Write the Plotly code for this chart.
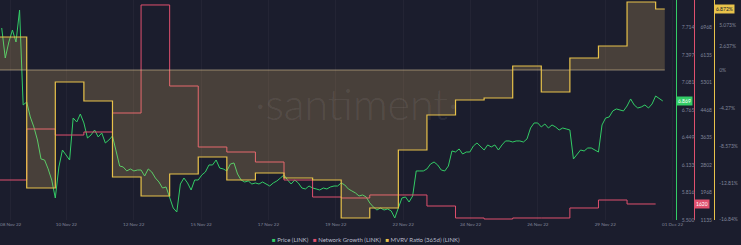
import pandas as pd
import plotly.graph_objects as go

# ---------------- data ----------------
price_start = "2022-11-07 03:00"
price_step = "3h"
price = [
    7.708, 7.363, 7.547, 7.685, 7.547, 7.915, 6.823, 6.857, 6.685, 6.570,
    6.420, 6.202, 6.190, 6.087, 5.960, 5.753, 6.110, 6.305, 6.248, 6.190,
    6.673, 6.627, 6.719, 6.616, 6.443, 6.478, 6.535, 6.455, 6.501, 6.386,
    6.420, 6.466, 6.294, 6.121, 6.110, 6.064, 6.087, 6.064, 6.075, 6.075,
    6.006, 6.087, 6.052, 5.983, 5.937, 5.868, 5.880, 5.753, 5.638, 5.592,
    5.914, 5.983, 5.926, 5.845, 5.960, 5.960, 6.018, 6.052, 6.133, 6.133,
    6.190, 6.098, 6.087, 6.064, 6.144, 6.156, 6.029, 5.960, 5.937, 5.949,
    5.914, 5.926, 5.914, 5.937, 5.914, 5.891, 5.926, 5.949, 5.983, 6.018,
    5.960, 5.914, 5.960, 5.926, 5.868, 5.857, 5.891, 5.868, 5.857, 5.845,
    5.868, 5.857, 5.880, 5.891, 5.891, 5.926, 5.903, 5.857, 5.834, 5.811,
    5.776, 5.788, 5.765, 5.696, 5.650, 5.615, 5.638, 5.615, 5.627, 5.604,
    5.523, 5.638, 5.753, 5.765, 5.707, 5.776, 6.064, 6.064, 6.064, 6.087,
    6.144, 6.167, 6.133, 6.075, 6.064, 6.121, 6.294, 6.282, 6.317, 6.259,
    6.282, 6.282, 6.351, 6.386, 6.340, 6.305, 6.363, 6.340, 6.363, 6.305,
    6.363, 6.409, 6.409, 6.397, 6.409, 6.409, 6.397, 6.432, 6.558, 6.616,
    6.616, 6.570, 6.604, 6.558, 6.593, 6.570, 6.535, 6.558, 6.547, 6.535,
    6.202, 6.248, 6.305, 6.294, 6.328, 6.328, 6.305, 6.282, 6.593, 6.673,
    6.685, 6.754, 6.777, 6.765, 6.754, 6.811, 6.892, 6.823, 6.788, 6.800,
    6.823, 6.788, 6.834, 6.926, 6.892, 6.869,
]

daily_start = "2022-11-07"
network_growth = [
    2347, 3892, 3710, 3801, 4377, 7650, 5195, 3347, 3195, 2892,
    2347, 1832, 1802, 1893, 1893, 1559, 1196, 1165, 1196, 1196,
    1499, 1741, 1620,
]
mvrv = [
    3.718, -13.294, -1.352, -3.493, -12.055, -14.196, -11.717, -9.802,
    -12.393, -11.604, -12.168, -12.393, -16.674, -15.548, -9.013, -5.070,
    -3.380, -3.155, 0.451, -2.479, 1.352, 2.704, 7.661, 6.872,
]
last_update = "2022-11-30 07:40"

x_tick_labels = ["08 Nov 22", "10 Nov 22", "12 Nov 22", "15 Nov 22", "17 Nov 22",
                 "19 Nov 22", "22 Nov 22", "24 Nov 22", "26 Nov 22", "29 Nov 22",
                 "01 Dec 22"]
mvrv_ticks = [7.862, 5.073, 2.637, 0, -4.27, -8.573, -12.81, -16.84]

# ---------------- styling ----------------
BG = "#1b1d2d"
GREEN = "#33cc66"
RED = "#e0506e"
YELLOW = "#e8c24a"
TICK = "#80859a"

W, H = 741, 245
plot_right = 683
ng_axis_x = 702
mvrv_axis_x = 722

price_dates = pd.date_range(price_start, periods=len(price), freq=price_step)
days = pd.date_range(daily_start, periods=len(mvrv), freq="D")
ng_x = list(days[:len(network_growth)]) + [days[len(network_growth)]]
ng_y = network_growth + [network_growth[-1]]
mv_x = list(days) + [pd.Timestamp(last_update)]
mv_y = mvrv + [mvrv[-1]]

x_range = ["2022-11-07 01:34", "2022-11-30 16:47"]
x_ticks = list(pd.date_range("2022-11-07 00:45", periods=len(x_tick_labels), freq="3393min"))
# the first label sits just left of the window; keep it readable inside the plot
x_ticks[0] = pd.Timestamp("2022-11-07 10:30")

price_range = [5.50, 8.03]
ng_range = [1135, 7801]
mvrv_range = [-16.9, 7.886]

fig = go.Figure()

fig.add_trace(go.Scatter(
    x=price_dates, y=price, mode="lines", name="Price (LINK)",
    line=dict(color=GREEN, width=1), yaxis="y", hoverinfo="skip"))

fig.add_trace(go.Scatter(
    x=ng_x, y=ng_y, mode="lines", name="Network Growth (LINK)",
    line=dict(color=RED, width=1, shape="hv"), yaxis="y2", hoverinfo="skip"))

fig.add_trace(go.Scatter(
    x=[mv_x[0], mv_x[-1]], y=[0, 0], mode="lines", showlegend=False,
    line=dict(color="rgba(225,205,165,0.55)", width=1), yaxis="y3", hoverinfo="skip"))

fig.add_trace(go.Scatter(
    x=mv_x, y=mv_y, mode="lines", name="MVRV Ratio (365d) (LINK)",
    line=dict(color=YELLOW, width=1.2, shape="hv"), fill="tozeroy",
    fillcolor="rgba(255,205,110,0.2)", yaxis="y3", hoverinfo="skip"))

tickfont = dict(size=5, color=TICK, family="Lato")

fig.update_layout(
    width=W, height=H, autosize=False,
    margin=dict(l=0, r=0, t=0, b=25, pad=0),
    paper_bgcolor=BG, plot_bgcolor=BG,
    showlegend=False,
    xaxis=dict(
        domain=[0, plot_right / W],
        range=x_range,
        tickvals=x_ticks, ticktext=x_tick_labels,
        tickfont=dict(size=4.6, color=TICK, family="Lato"),
        showgrid=True, gridcolor="rgba(255,255,255,0.035)",
        gridwidth=1, zeroline=False, showline=False, ticks="",
        ticklabeloverflow="allow",
    ),
    yaxis=dict(
        range=price_range, side="right", anchor="x",
        showline=True, linecolor=GREEN, linewidth=1,
        showgrid=False, zeroline=False, ticks="",
        tickmode="linear", tick0=price_range[0],
        dtick=(price_range[1] - price_range[0]) / 8, tickformat=".3f",
        tickfont=tickfont, ticklabelstandoff=4,
    ),
    yaxis2=dict(
        range=ng_range, side="right", anchor="free", overlaying="y",
        position=ng_axis_x / W,
        showline=True, linecolor=RED, linewidth=1,
        showgrid=False, zeroline=False, ticks="",
        tickmode="linear", tick0=ng_range[0],
        dtick=(ng_range[1] - ng_range[0]) / 8, tickformat="d",
        tickfont=tickfont, ticklabelstandoff=4,
    ),
    yaxis3=dict(
        range=mvrv_range, side="right", anchor="free", overlaying="y",
        position=mvrv_axis_x / W,
        showline=True, linecolor=YELLOW, linewidth=1,
        showgrid=False, zeroline=False, ticks="",
        tickvals=mvrv_ticks, ticktext=[f"{v}%" for v in mvrv_ticks],
        tickfont=tickfont, ticklabelstandoff=3,
    ),
)

# watermark
fig.add_annotation(
    text="·santiment·", xref="paper", yref="paper", x=360 / W, y=1 - 104 / 220,
    showarrow=False, font=dict(size=43, color="rgba(255,255,255,0.085)", family="Lato", weight=300),
)

# last value badges
fig.add_annotation(
    text=f"{price[-1]:.3f}", xref="paper", yref="y", x=plot_right / W, y=price[-1],
    xanchor="left", showarrow=False, bgcolor=GREEN, borderpad=1,
    font=dict(size=5, color="#ffffff", family="Lato"))
fig.add_annotation(
    text=f"{network_growth[-1]}", xref="paper", yref="y2", x=ng_axis_x / W, y=network_growth[-1],
    xanchor="left", showarrow=False, bgcolor=RED, borderpad=1,
    font=dict(size=5, color="#ffffff", family="Lato"))
fig.add_annotation(
    text=f"{mvrv[-1]:.3f}%", xref="paper", yref="y3", x=mvrv_axis_x / W, y=mvrv[-1],
    xanchor="left", showarrow=False, bgcolor=YELLOW, borderpad=1,
    font=dict(size=5, color="#1b1d2d", family="Lato"))

# legend
legend_text = (
    f"<span style='color:{GREEN}'>■</span> Price (LINK)   "
    f"<span style='color:{RED}'>■</span> Network Growth (LINK)   "
    f"<span style='color:{YELLOW}'>■</span> MVRV Ratio (365d) (LINK)"
)
fig.add_annotation(
    text=legend_text, xref="paper", yref="paper", x=370 / W, y=-20 / 220,
    xanchor="center", yanchor="middle", showarrow=False,
    font=dict(size=6, color="#b8bccb", family="Lato"))

fig.write_html("out.html")
